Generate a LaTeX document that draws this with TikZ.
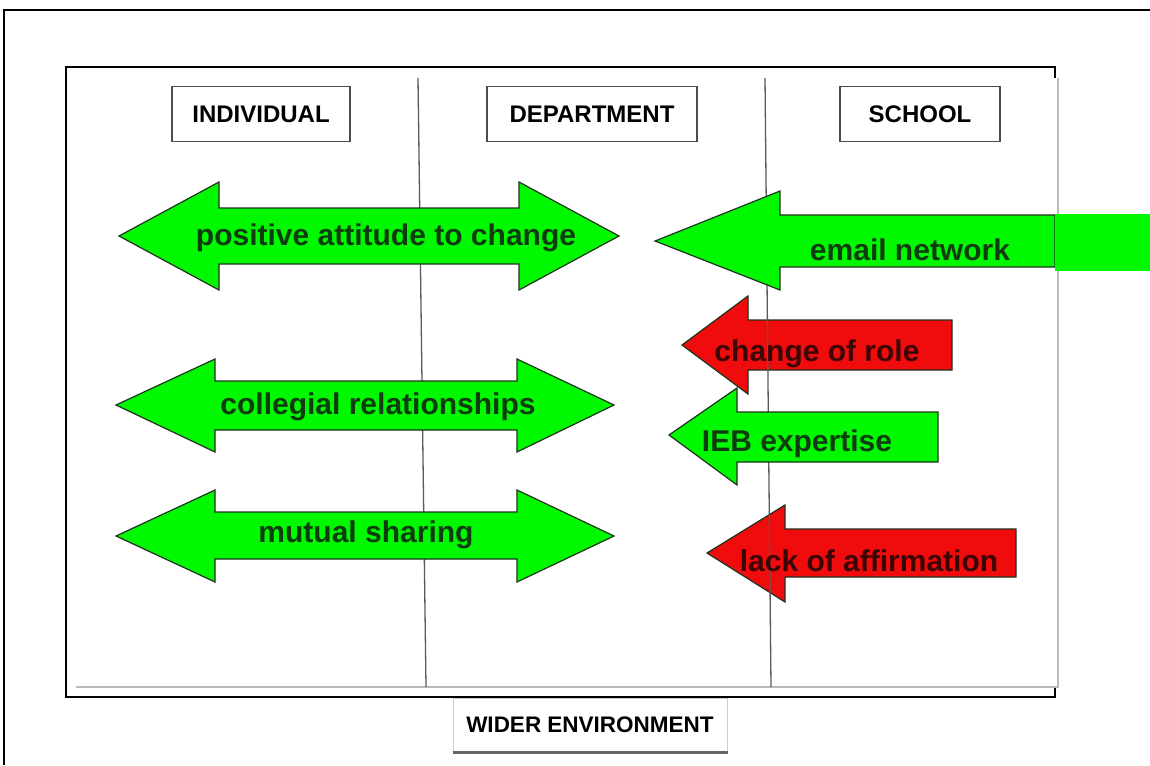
\documentclass[tikz,border=0pt]{standalone}
\usepackage{fontspec}
\setmainfont{Liberation Sans}
\definecolor{arrgreen}{RGB}{0,248,0}
\definecolor{arrred}{RGB}{240,12,12}
\definecolor{gtext}{RGB}{15,60,15}
\definecolor{rtext}{RGB}{60,5,5}
\definecolor{panelgray}{RGB}{185,185,185}
\definecolor{divgray}{RGB}{90,90,90}
\tikzset{
  arrowline/.style={draw={rgb,255:red,30;green,50;blue,30}, line width=1.2pt, line join=miter},
  greenarrow/.style={arrowline, fill=arrgreen},
  redarrow/.style={arrowline, fill=arrred},
  gtxt/.style={font=\bfseries\fontsize{30}{32}\selectfont, text=gtext, inner sep=0pt},
  rtxt/.style={font=\bfseries\fontsize{30}{32}\selectfont, text=rtext, inner sep=0pt},
  header/.style={draw=black!70, line width=1.6pt, fill=white, font=\bfseries\fontsize{24}{26}\selectfont, inner sep=0pt},
  frame/.style={line width=2.2pt, black},
  divider/.style={divgray, line width=1.3pt},
}
\begin{document}
\begin{tikzpicture}[x=1pt,y=-1pt]
\useasboundingbox (0,0) rectangle (1150,765);
\fill[white] (0,0) rectangle (1150,765);
% outer frame
\draw[frame] (4,765) -- (4,10) -- (1150,10);
% inner frame
\draw[frame] (1055,78) -- (1055,67) -- (66,67) -- (66,697) -- (1055,697) -- (1055,686);
% panel border
\draw[panelgray, line width=1.8pt] (76,687) -- (1058,687) -- (1058,78);
% headers
\node[header, minimum width=178, minimum height=55] (ind) at (261,114) {INDIVIDUAL};
\node[header, minimum width=210, minimum height=55] (dep) at (592,114) {DEPARTMENT};
\node[header, minimum width=160, minimum height=55] (sch) at (920,114) {SCHOOL};
% red arrows (beneath divider)
\filldraw[redarrow] (682,345) -- (748,296) -- (748,320) -- (952,320) -- (952,370) -- (748,370) -- (748,394) -- cycle;
\filldraw[redarrow] (707,553) -- (785,505) -- (785,529) -- (1016,529) -- (1016,577) -- (785,577) -- (785,602) -- cycle;
% dividers
\draw[divider] (418,78) -- (426,687);
\draw[divider] (765,78) -- (771,687);
% green arrows
\filldraw[greenarrow] (119,236) -- (219,182) -- (219,208) -- (519,208) -- (519,182) -- (619,236) -- (519,290) -- (519,264) -- (219,264) -- (219,290) -- cycle;
\filldraw[greenarrow] (116,405) -- (215,359) -- (215,381) -- (517,381) -- (517,359) -- (614,405) -- (517,452) -- (517,430) -- (215,430) -- (215,452) -- cycle;
\filldraw[greenarrow] (116,536) -- (215,490) -- (215,512) -- (517,512) -- (517,490) -- (614,536) -- (517,582) -- (517,559) -- (215,559) -- (215,582) -- cycle;
\filldraw[greenarrow] (655,241) -- (780,191) -- (780,215) -- (1055,215) -- (1055,267) -- (780,267) -- (780,290) -- cycle;
\fill[arrgreen] (1055,214) rectangle (1150,271);
\filldraw[greenarrow] (669,435) -- (737,388) -- (737,412) -- (938,412) -- (938,462) -- (737,462) -- (737,485) -- cycle;
% labels
\node[gtxt] (t1) at (386,238) {positive attitude to change};
\node[gtxt] (t2) at (378,407) {collegial relationships};
\node[gtxt] (t3) at (366,535) {mutual sharing};
\node[gtxt] (t4) at (910,250) {email network};
\node[rtxt] (t5) at (817,354) {change of role};
\node[gtxt] (t6) at (797,444) {IEB expertise};
\node[rtxt] (t7) at (869,561) {lack of affirmation};
% wider environment
\node[draw=black!20, line width=1pt, fill=white, minimum width=274, minimum height=54, inner sep=0pt, font=\bfseries\fontsize{22.5}{24}\selectfont] (wider) at (590,725) {WIDER ENVIRONMENT};
\draw[black!60, line width=2.2pt] (wider.south west) -- (wider.south east);
\end{tikzpicture}
\end{document}
